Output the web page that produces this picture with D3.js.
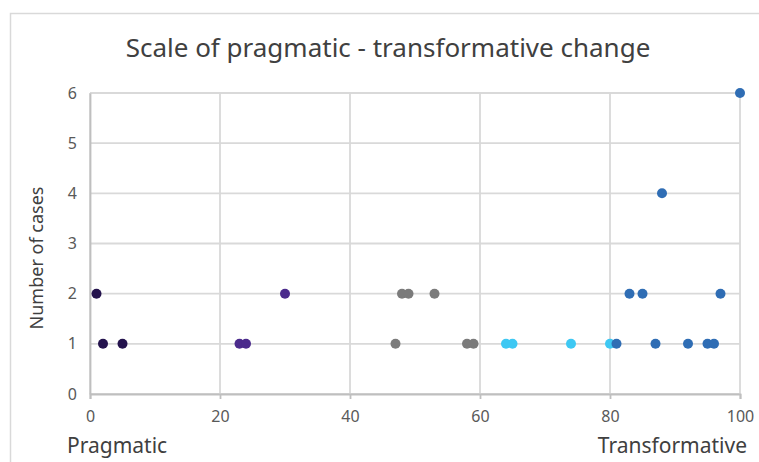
<!DOCTYPE html>
<html><head><meta charset="utf-8">
<script src="https://cdn.jsdelivr.net/npm/d3@7"></script>
<style>body{margin:0;background:#fff}svg{display:block}text{font-family:"Noto Sans",sans-serif}</style>
</head><body>
<svg id="c" width="759" height="462"></svg>
<script>
const groups = ["Pragmatic-1","Pragmatic-2","Middle","Transformative-1","Transformative-2"];
const groupColors = ["#24134d","#4b2b8c","#7b7b7b","#3ec8f3","#2f6db4"];
const xValues = [1,2,5, 23,24,30, 47,48,49,53,58,59, 64,65,74,80, 81,83,85,87,88,92,95,96,97,100];
const yValues = [2,1,1, 1,1,2, 1,2,2,2,1,1, 1,1,1,1, 1,2,2,1,4,1,1,1,2,6];
const groupOf = [0,0,0, 1,1,1, 2,2,2,2,2,2, 3,3,3,3, 4,4,4,4,4,4,4,4,4,4];
const xTicks = [0,20,40,60,80,100];
const yTicks = [0,1,2,3,4,5,6];
const title = "Scale of pragmatic - transformative change";
const yTitle = "Number of cases";
const xEndLabels = ["Pragmatic","Transformative"];

const svg = d3.select("#c");
svg.append("rect").attr("x",10.5).attr("y",13.5).attr("width",760).attr("height",460)
  .attr("fill","#fff").attr("stroke","#d9d9d9").attr("stroke-width",1.5);

const x = d3.scaleLinear().domain([0,100]).range([90,740]);
const y = d3.scaleLinear().domain([0,6]).range([394,93]);

// grid
svg.append("g").selectAll("line").data(yTicks).join("line")
  .attr("x1",x(0)).attr("x2",x(100)).attr("y1",d=>y(d)).attr("y2",d=>y(d))
  .attr("stroke","#d9d9d9").attr("stroke-width",1.8);
svg.append("g").selectAll("line").data(xTicks).join("line")
  .attr("x1",d=>x(d)).attr("x2",d=>x(d)).attr("y1",y(0)).attr("y2",y(6))
  .attr("stroke","#d9d9d9").attr("stroke-width",1.8);

// axes
const xa = svg.append("g").attr("transform",`translate(0,${y(0)})`)
  .call(d3.axisBottom(x).tickValues(xTicks).tickFormat(d3.format("d")).tickSize(5).tickPadding(12));
xa.select(".domain").attr("stroke","#bfbfbf").attr("stroke-width",1.8);
xa.selectAll(".tick line").attr("stroke","#bfbfbf").attr("stroke-width",1.8);
xa.selectAll("text").attr("fill","#595959").attr("font-size",16).attr("font-family","Noto Sans");

const ya = svg.append("g").attr("transform",`translate(${x(0)},0)`)
  .call(d3.axisLeft(y).tickValues(yTicks).tickFormat(d3.format("d")).tickSize(0).tickPadding(13));
ya.select(".domain").attr("stroke","#bfbfbf").attr("stroke-width",1.8);
ya.selectAll("text").attr("fill","#595959").attr("font-size",16).attr("font-family","Noto Sans");

// points
svg.append("g").selectAll("circle").data(xValues).join("circle")
  .attr("cx",d=>x(d)).attr("cy",(d,i)=>y(yValues[i])).attr("r",5)
  .attr("fill",(d,i)=>groupColors[groupOf[i]]);

svg.append("text").attr("x",388).attr("y",57).attr("text-anchor","middle")
  .attr("font-size",26).attr("fill","#404040").text(title);
svg.append("text").attr("transform","translate(43,258) rotate(-90)").attr("text-anchor","middle")
  .attr("font-size",18).attr("fill","#404040").text(yTitle);
svg.append("text").attr("x",67).attr("y",453).attr("font-size",21).attr("fill","#404040").text(xEndLabels[0]);
svg.append("text").attr("x",747).attr("y",453).attr("text-anchor","end").attr("font-size",21).attr("fill","#404040").text(xEndLabels[1]);
</script>
</body></html>
